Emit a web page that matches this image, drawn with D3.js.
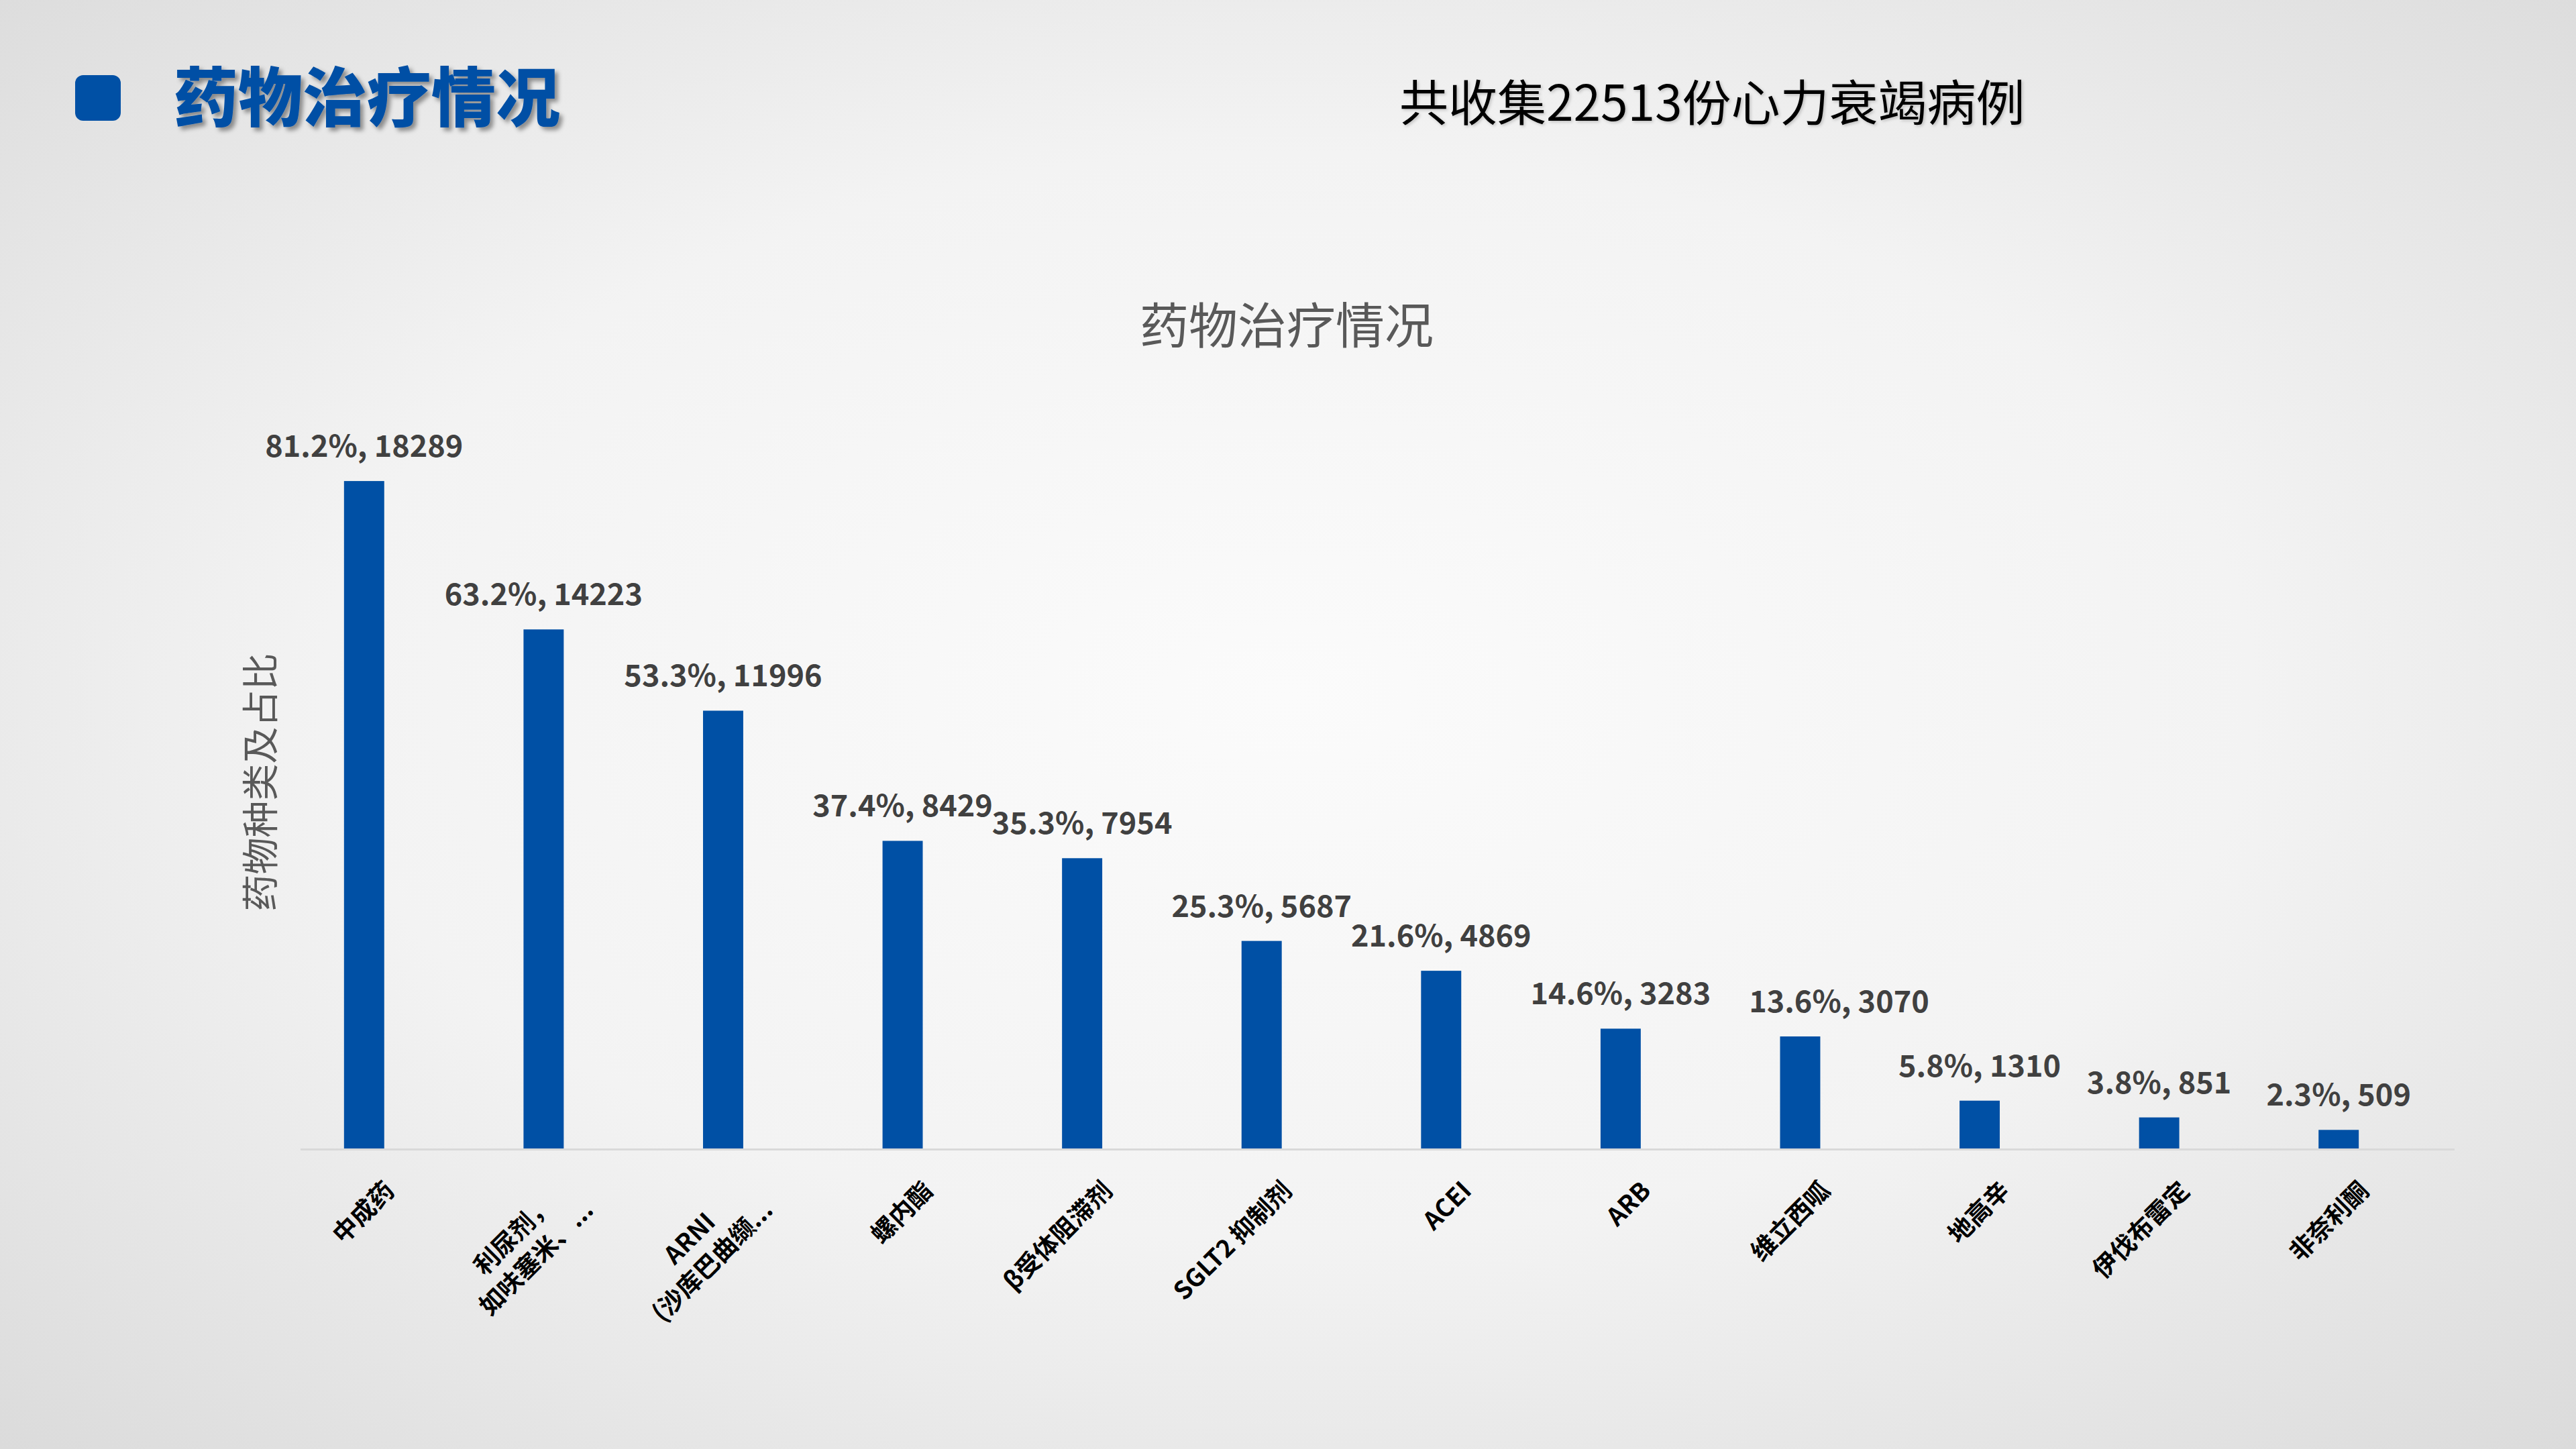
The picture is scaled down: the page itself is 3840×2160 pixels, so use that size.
<!DOCTYPE html>
<html>
<head>
<meta charset="utf-8">
<script src="https://cdn.jsdelivr.net/npm/d3@7"></script>
<style>
  html, body { margin: 0; padding: 0; overflow: hidden; background: #eeeeee; }
</style>
</head>
<body>
<div id="chart"></div>
<script>
// data
var categories = ["中成药", "利尿剂，\n如呋塞米、...", "ARNI\n(沙库巴曲缬...", "螺内酯", "β受体阻滞剂",
                  "SGLT2 抑制剂", "ACEI", "ARB", "维立西呱", "地高辛", "伊伐布雷定", "非奈利酮"];
var counts = [18289, 14223, 11996, 8429, 7954, 5687, 4869, 3283, 3070, 1310, 851, 509];
var percents = ["81.2%", "63.2%", "53.3%", "37.4%", "35.3%", "25.3%", "21.6%", "14.6%", "13.6%", "5.8%", "3.8%", "2.3%"];
var yDomain = [0, 20000];

var pageTitle = "药物治疗情况";
var subTitle = "共收集22513份心力衰竭病例";
var chartTitle = "药物治疗情况";
var yTitle = "药物种类及占比";

var width = 3840, height = 2160;
var font = '"Noto Sans CJK SC", "Microsoft YaHei", sans-serif';
var blue = "#0050A5";

// one label was dragged aside in the original slide to clear its neighbour
var labelShift = {"维立西呱": 58};

var svg = d3.select("#chart")
    .append("svg")
    .attr("width", width)
    .attr("height", height);

var defs = svg.append("defs");
var grad = defs.append("radialGradient")
    .attr("id", "bg")
    .attr("cx", "50%").attr("cy", "48%").attr("r", "75%");
grad.append("stop").attr("offset", "0%").attr("stop-color", "#fbfbfb");
grad.append("stop").attr("offset", "50%").attr("stop-color", "#f3f3f3");
grad.append("stop").attr("offset", "100%").attr("stop-color", "#d9d9d9");

var shadow = defs.append("filter").attr("id", "shadow")
    .attr("x", "-10%").attr("y", "-20%").attr("width", "130%").attr("height", "160%");
shadow.append("feDropShadow")
    .attr("dx", 5).attr("dy", 5).attr("stdDeviation", 3)
    .attr("flood-color", "#000").attr("flood-opacity", 0.4);

var softShadow = defs.append("filter").attr("id", "softShadow")
    .attr("x", "-5%").attr("y", "-20%").attr("width", "110%").attr("height", "160%");
softShadow.append("feDropShadow")
    .attr("dx", 2).attr("dy", 2).attr("stdDeviation", 2)
    .attr("flood-color", "#000").attr("flood-opacity", 0.2);

svg.append("rect")
    .attr("width", width).attr("height", height)
    .attr("fill", "url(#bg)");

// header
svg.append("rect")
    .attr("x", 112).attr("y", 112)
    .attr("width", 68).attr("height", 68)
    .attr("rx", 12)
    .attr("fill", blue);

svg.append("text")
    .attr("x", 259).attr("y", 180)
    .attr("font-family", font)
    .attr("font-weight", 900)
    .attr("font-size", 96)
    .attr("fill", blue)
    .attr("filter", "url(#shadow)")
    .text(pageTitle);

svg.append("text")
    .attr("x", 2086).attr("y", 180)
    .attr("font-family", font)
    .attr("font-size", 73)
    .attr("fill", "#000")
    .attr("filter", "url(#softShadow)")
    .text(subTitle);

// chart title
svg.append("text")
    .attr("x", 1918).attr("y", 512)
    .attr("text-anchor", "middle")
    .attr("font-family", font)
    .attr("font-size", 73)
    .attr("fill", "#595959")
    .text(chartTitle);

// scales
var baseY = 1712;
var xScale = d3.scaleBand()
    .domain(categories)
    .range([409, 3620])
    .paddingInner(0.776)
    .paddingOuter(0.388);

var yScale = d3.scaleLinear()
    .domain(yDomain)
    .range([baseY, 624]);

// y axis title
svg.append("text")
    .attr("transform", "translate(408,1166) rotate(-90)")
    .attr("text-anchor", "middle")
    .attr("font-family", font)
    .attr("font-size", 55)
    .attr("fill", "#595959")
    .text(yTitle);

// bars
svg.selectAll(".bar")
    .data(categories)
    .enter()
    .append("rect")
    .attr("class", "bar")
    .attr("x", function(d) { return xScale(d); })
    .attr("y", function(d, i) { return yScale(counts[i]); })
    .attr("width", xScale.bandwidth())
    .attr("height", function(d, i) { return baseY - yScale(counts[i]); })
    .attr("fill", blue);

// axis line
svg.append("line")
    .attr("x1", 448).attr("x2", 3659)
    .attr("y1", baseY + 1.5).attr("y2", baseY + 1.5)
    .attr("stroke", "#d9d9d9")
    .attr("stroke-width", 3);

// data labels
svg.selectAll(".dataLabel")
    .data(categories)
    .enter()
    .append("text")
    .attr("class", "dataLabel")
    .attr("x", function(d) { return xScale(d) + xScale.bandwidth() / 2 + (labelShift[d] || 0); })
    .attr("y", function(d, i) { return yScale(counts[i]) - 36; })
    .attr("text-anchor", "middle")
    .attr("font-family", font)
    .attr("font-weight", "bold")
    .attr("font-size", 45)
    .attr("fill", "#404040")
    .text(function(d, i) { return percents[i] + ", " + counts[i]; });

// category labels, rotated -45, block anchored at its right end
var lineH = 48;
categories.forEach(function(c) {
    var lines = c.split("\n");
    var cx = xScale(c) + xScale.bandwidth() / 2;
    var g = svg.append("g")
        .attr("transform", "translate(" + (cx + 36) + "," + (baseY + 54) + ") rotate(-45)");
    var texts = lines.map(function(line, j) {
        return g.append("text")
            .attr("y", (j - (lines.length - 1) / 2) * lineH + (lines.length - 1) * 17)
            .attr("dominant-baseline", "central")
            .attr("text-anchor", "middle")
            .attr("font-family", font)
            .attr("font-weight", "bold")
            .attr("font-size", 37)
            .attr("fill", "#000")
            .text(line);
    });
    var w = d3.max(texts, function(t) { return t.node().getComputedTextLength(); });
    texts.forEach(function(t) { t.attr("x", -w / 2); });
});
</script>
</body>
</html>
